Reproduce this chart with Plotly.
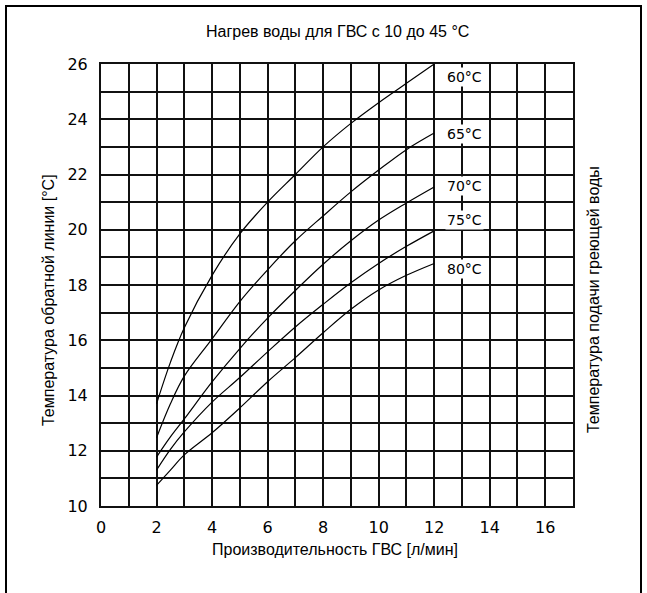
import plotly.graph_objects as go

# ---- data ----
flow = [2, 2.5, 3, 4, 5, 6, 7, 8, 9, 10, 11, 12]
t60 = [13.7, 15.2, 16.45, 18.35, 19.85, 21.0, 22.0, 23.0, 23.85, 24.6, 25.3, 26.0]
t65 = [12.47, 13.7, 14.7, 16.05, 17.4, 18.55, 19.6, 20.5, 21.37, 22.16, 22.9, 23.5]
t70 = [11.77, 12.5, 13.15, 14.49, 15.7, 16.8, 17.8, 18.75, 19.6, 20.35, 20.97, 21.55]
t75 = [11.3, 12.05, 12.68, 13.76, 14.65, 15.58, 16.48, 17.3, 18.08, 18.78, 19.4, 19.96]
t80 = [10.75, 11.3, 11.85, 12.65, 13.55, 14.5, 15.37, 16.27, 17.12, 17.82, 18.35, 18.78]
series = [t60, t65, t70, t75, t80]
series_labels = ["60°C", "65°C", "70°C", "75°C", "80°C"]
label_y = [25.54, 23.46, 21.6, 20.37, 18.57]

x_grid = list(range(0, 18))
x_tick_text = ["0", "", "2", "", "4", "", "6", "", "8", "", "10", "", "12", "", "14", "", "16", ""]
y_grid = list(range(10, 27))
y_tick_text = ["10", "", "12", "", "14", "", "16", "", "18", "", "20", "", "22", "", "24", "", "26"]

title_text = "Нагрев воды для ГВС с 10 до 45 °C"
x_title = "Производительность ГВС [л/мин]"
y_title = "Температура обратной линии [°C]"
y2_title = "Температура подачи греющей воды"

# ---- geometry ----
W, H = 647, 593
L, R, T, B = 101, 74, 64, 87
pw, ph = W - L - R, H - T - B

def px_x(p):
    return (p - L) / pw

def px_y(p):
    return (H - B - p) / ph

fig = go.Figure()
for ys, name in zip(series, series_labels):
    fig.add_trace(go.Scatter(x=flow, y=ys, mode="lines", name=name,
                             line=dict(color="black", width=1.2, shape="spline", smoothing=1.0),
                             showlegend=False, hoverinfo="x+y"))

tick_font = dict(family="DejaVu Sans", size=16, color="black")
fig.update_xaxes(range=[0, 17], tickmode="array", tickvals=x_grid, ticktext=x_tick_text,
                 showgrid=True, gridcolor="#111", gridwidth=1.6, zeroline=False,
                 showline=True, linecolor="#111", linewidth=2, mirror=True,
                 ticks="", tickfont=tick_font, ticklabelstandoff=6)
fig.update_yaxes(range=[10, 26], tickmode="array", tickvals=y_grid, ticktext=y_tick_text,
                 showgrid=True, gridcolor="#111", gridwidth=1.6, zeroline=False,
                 showline=True, linecolor="#111", linewidth=2, mirror=True,
                 ticks="", tickfont=tick_font, ticklabelstandoff=8)

text_font = dict(family="Liberation Sans", size=16, color="black")
annotations = []
for txt, yv in zip(series_labels, label_y):
    annotations.append(dict(x=13.1, y=yv, xref="x", yref="y", text=txt, showarrow=False,
                            font=dict(family="DejaVu Sans", size=14, color="black"),
                            bgcolor="white", borderpad=1))
annotations.append(dict(x=px_x(337), y=px_y(31), xref="paper", yref="paper", text=title_text,
                        showarrow=False, font=text_font, xanchor="center", yanchor="middle"))
annotations.append(dict(x=px_x(335), y=px_y(549), xref="paper", yref="paper", text=x_title,
                        showarrow=False, font=text_font, xanchor="center", yanchor="middle"))
annotations.append(dict(x=px_x(48), y=px_y(300), xref="paper", yref="paper", text=y_title,
                        showarrow=False, textangle=-90, font=text_font,
                        xanchor="center", yanchor="middle"))
annotations.append(dict(x=px_x(593), y=px_y(300), xref="paper", yref="paper", text=y2_title,
                        showarrow=False, textangle=-90, font=text_font,
                        xanchor="center", yanchor="middle"))

shapes = [dict(type="rect", xref="paper", yref="paper",
               x0=px_x(6), x1=px_x(641), y0=px_y(605), y1=px_y(6),
               line=dict(color="black", width=2), fillcolor="rgba(0,0,0,0)")]

fig.update_layout(width=W, height=H, margin=dict(l=L, r=R, t=T, b=B, autoexpand=False),
                  paper_bgcolor="white", plot_bgcolor="white",
                  annotations=annotations, shapes=shapes)

fig.write_html("out.html")
